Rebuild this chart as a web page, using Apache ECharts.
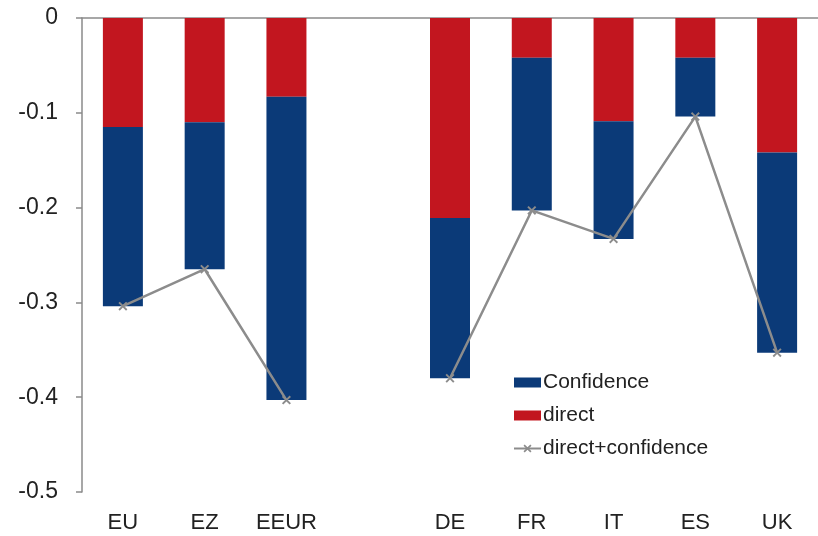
<!DOCTYPE html>
<html>
<head>
<meta charset="utf-8">
<script src="https://cdn.jsdelivr.net/npm/echarts@6/dist/echarts.min.js"></script>
<style>
html,body{margin:0;padding:0;background:#fff;}
#chart{width:818px;height:536px;}
</style>
</head>
<body>
<div id="chart"></div>
<script>
var categories = ['EU', 'EZ', 'EEUR', '', 'DE', 'FR', 'IT', 'ES', 'UK'];
var directValues = [-0.115, -0.110, -0.083, null, -0.211, -0.042, -0.109, -0.042, -0.142];
var confidenceValues = [-0.189, -0.155, -0.320, null, -0.169, -0.161, -0.124, -0.062, -0.211];
var totalValues = [-0.304, -0.265, -0.403, null, -0.380, -0.203, -0.233, -0.104, -0.353];
var yTicks = [0, -0.1, -0.2, -0.3, -0.4, -0.5];

var chart = echarts.init(document.getElementById('chart'));
var font = 'Liberation Sans, Arial, sans-serif';
var xMark = 'path://M0,1.5L1.5,0L5,3.5L8.5,0L10,1.5L6.5,5L10,8.5L8.5,10L5,6.5L1.5,10L0,8.5L3.5,5Z';

chart.setOption({
  animation: false,
  backgroundColor: '#ffffff',
  textStyle: { fontFamily: font },
  grid: { left: 82, right: -7, top: 18, bottom: 44, containLabel: false },
  legend: {
    orient: 'vertical',
    left: 508,
    top: 367,
    itemGap: 12,
    itemWidth: 27,
    itemHeight: 10,
    textStyle: { fontFamily: font, fontSize: 21, color: '#222', padding: [0, 0, 0, -3] },
    data: [
      { name: 'Confidence', icon: 'rect' },
      { name: 'direct', icon: 'rect' },
      { name: 'direct+confidence' }
    ]
  },
  xAxis: [
    {
      type: 'category',
      data: categories,
      position: 'bottom',
      axisLine: { show: false, onZero: false },
      axisTick: { show: false },
      axisLabel: { fontFamily: font, fontSize: 22, color: '#222', margin: 20 }
    },
    {
      type: 'category',
      data: categories,
      position: 'top',
      axisLine: { show: true, onZero: false, lineStyle: { color: '#8a8a8a', width: 1.5 } },
      axisTick: { show: false },
      axisLabel: { show: false }
    }
  ],
  yAxis: {
    type: 'value',
    min: -0.5,
    max: 0,
    interval: 0.1,
    axisLine: { show: true, lineStyle: { color: '#8a8a8a', width: 1.5 } },
    axisTick: { show: true, inside: false, length: 6, lineStyle: { color: '#8a8a8a', width: 1.5 } },
    splitLine: { show: false },
    axisLabel: {
      fontFamily: font, fontSize: 23, color: '#222', margin: 24,
      formatter: function (v) {
        var r = Math.round(v * 10) / 10;
        for (var i = 0; i < yTicks.length; i++) {
          if (Math.abs(yTicks[i] - r) < 1e-9) return String(yTicks[i]);
        }
        return '';
      }
    }
  },
  series: [
    {
      name: 'direct',
      type: 'bar',
      stack: 'total',
      barWidth: 40,
      data: directValues,
      itemStyle: { color: '#c2161f' }
    },
    {
      name: 'Confidence',
      type: 'bar',
      stack: 'total',
      barWidth: 40,
      data: confidenceValues,
      itemStyle: { color: '#0b3a78' }
    },
    {
      name: 'direct+confidence',
      type: 'line',
      data: totalValues,
      connectNulls: false,
      symbol: xMark,
      symbolSize: 9,
      showAllSymbol: true,
      lineStyle: { color: '#8c8c8c', width: 2.5 },
      itemStyle: { color: '#8c8c8c' },
      z: 5
    }
  ]
});
</script>
</body>
</html>
